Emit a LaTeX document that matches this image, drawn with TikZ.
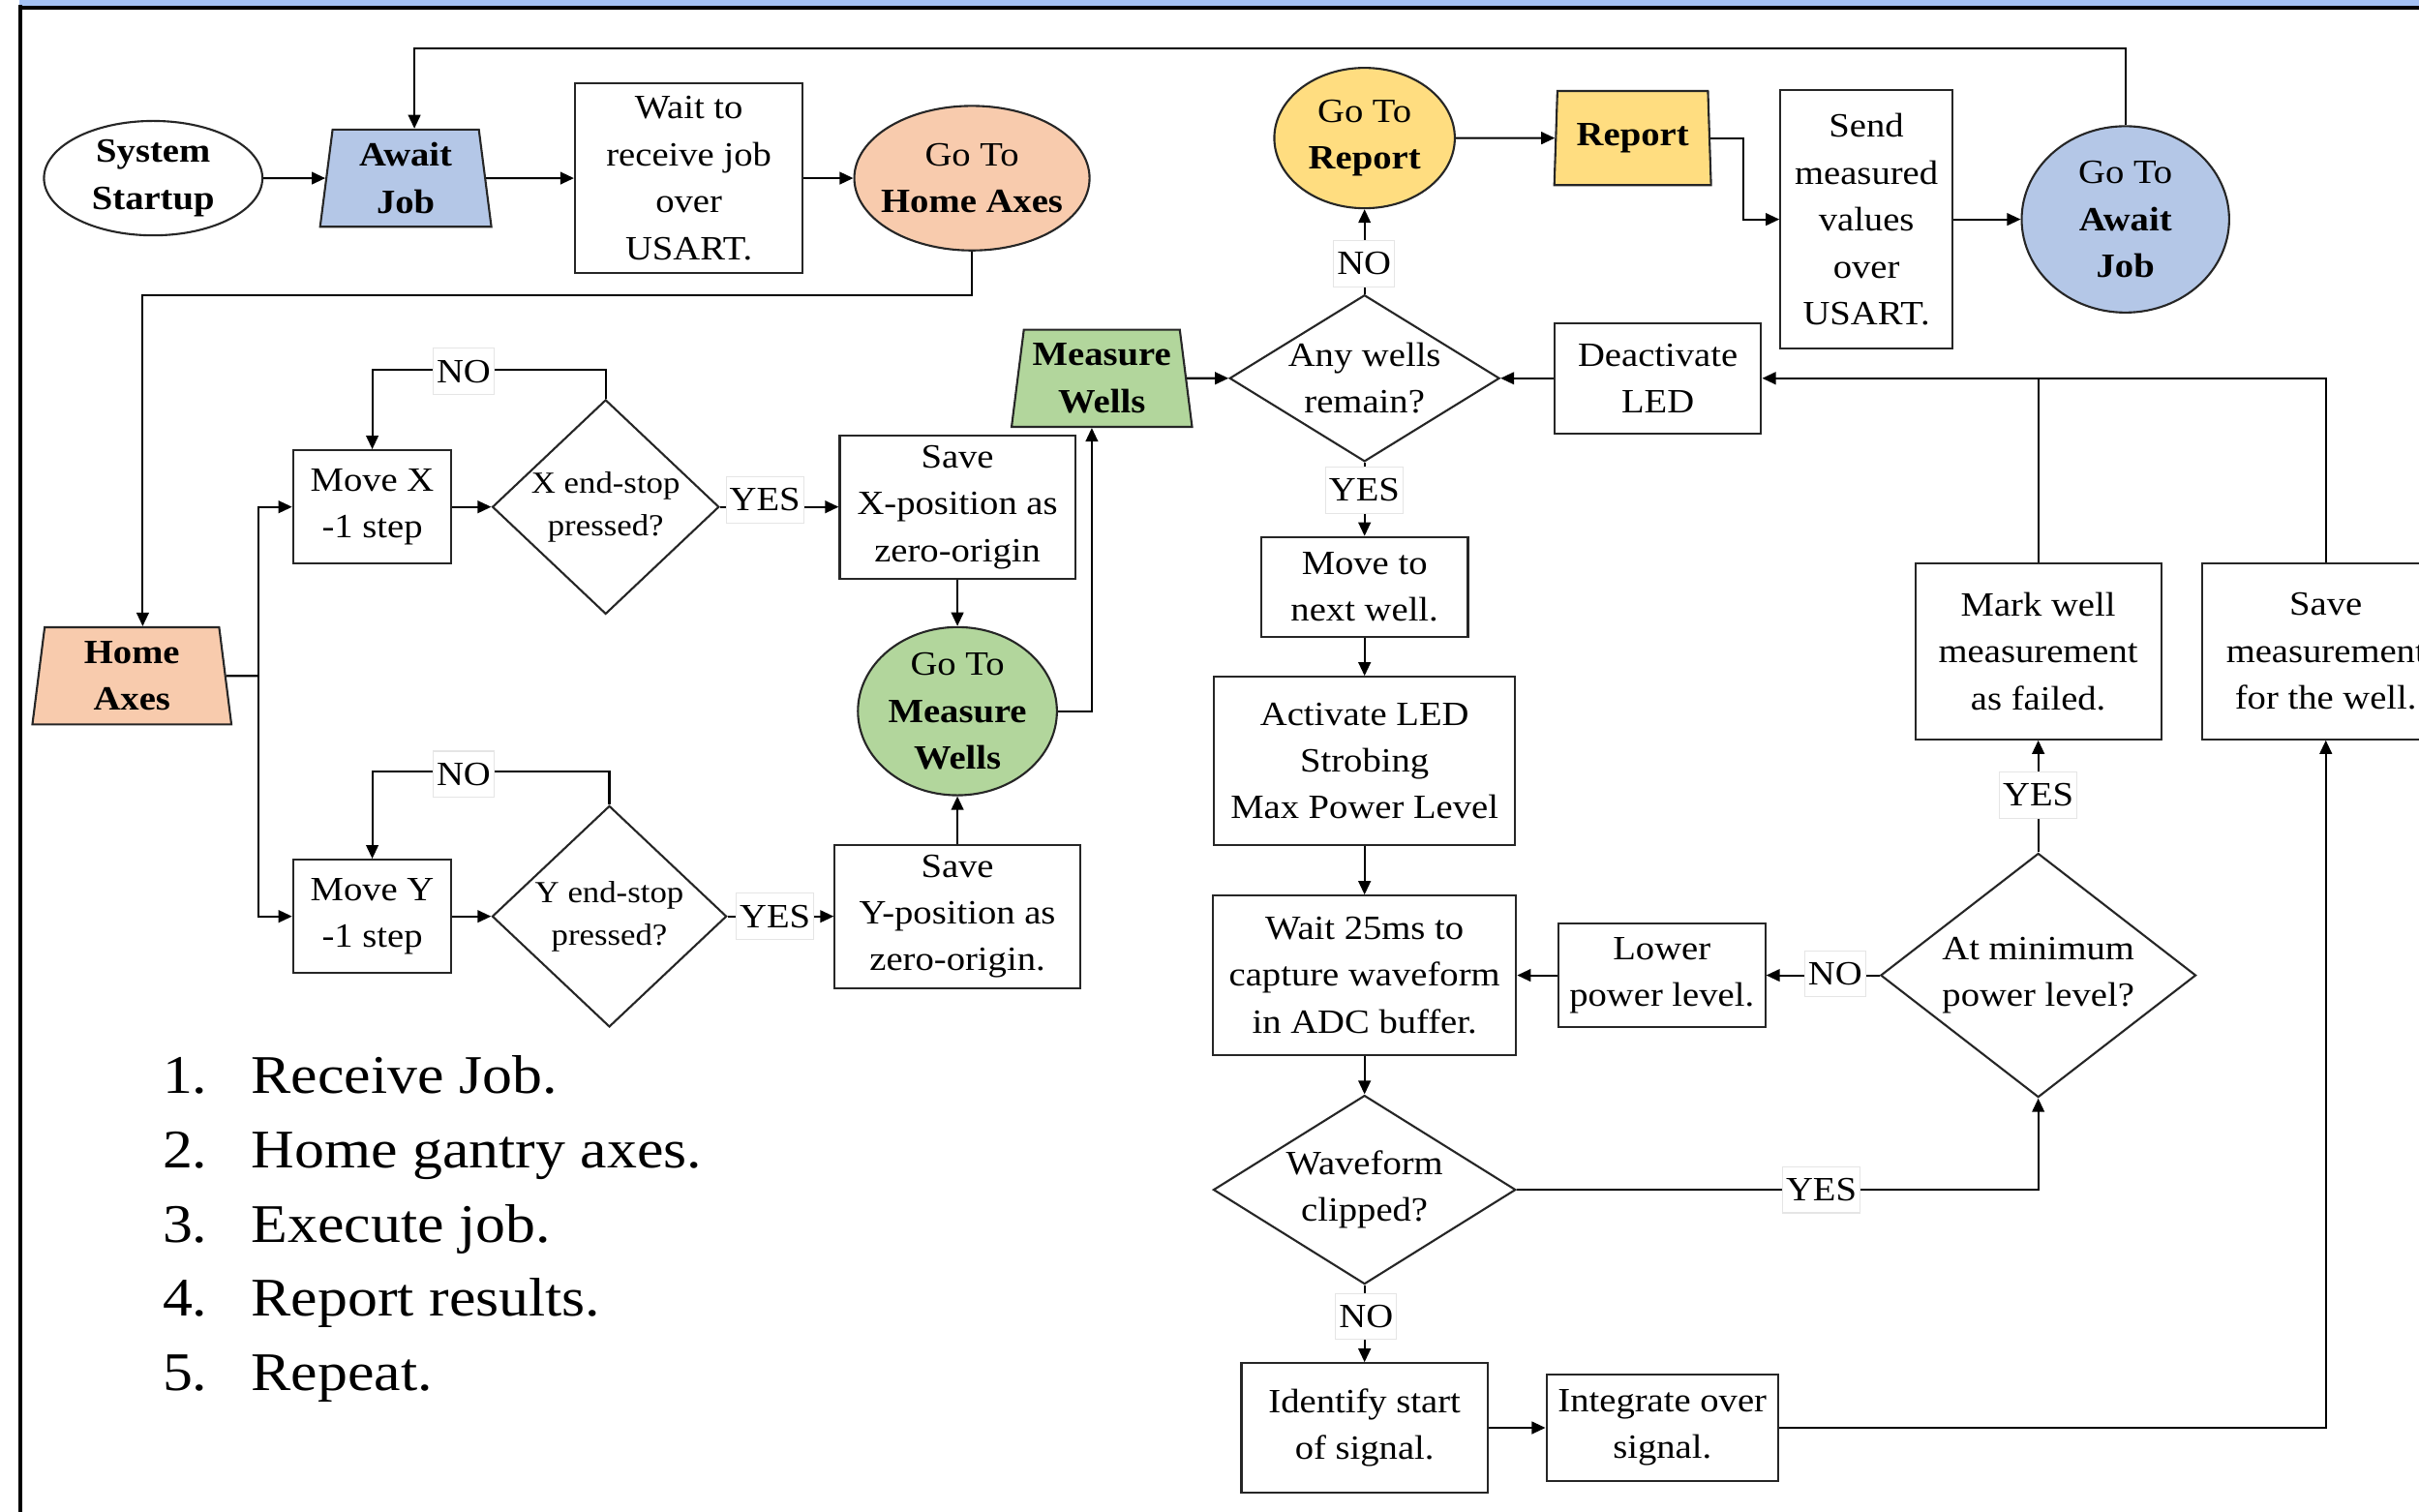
\documentclass[tikz,border=0pt]{standalone}
\usepackage{fontspec}
\setmainfont{Liberation Serif}[FakeStretch=1.1]
\usepackage{tikz}
\usetikzlibrary{shapes.geometric,arrows.meta,positioning}

\newlength{\pu}
\setlength{\pu}{0.01594cm}
\newcommand{\flowfont}{\fontsize{10}{13.8}\selectfont}
\newcommand{\stopfont}{\fontsize{9}{12.6}\selectfont}
\newcommand{\stepsfont}{\fontsize{16}{21.8}\selectfont}

\definecolor{bandblue}{RGB}{164,194,244}
\definecolor{jobblue}{RGB}{180,199,231}
\definecolor{homeorange}{RGB}{248,203,173}
\definecolor{reportyellow}{RGB}{255,221,128}
\definecolor{wellgreen}{RGB}{178,214,156}

\tikzset{
  wh/.style 2 args={minimum width=#1*\pu, minimum height=#2*\pu},
  proc/.style={draw=black!85, line width=0.6pt, rectangle, inner sep=0pt, align=center, font=\flowfont},
  decide/.style={draw=black!85, line width=0.6pt, diamond, inner sep=-2pt, align=center, font=\flowfont},
  goto/.style={draw=black!85, line width=0.6pt, ellipse, inner sep=-3pt, align=center, font=\flowfont},
  entry/.style={draw=black!85, line width=0.6pt, trapezium, trapezium left angle=80, trapezium right angle=80,
    trapezium stretches body, inner sep=0pt, align=center, font=\flowfont\bfseries},
  lbl/.style={fill=white, draw=black!10, line width=0.3pt, inner xsep=1pt, inner ysep=0pt, minimum height=30*\pu, font=\flowfont},
  flow/.style={line width=0.6pt, -{Triangle[length=4pt,width=3.6pt]}},
  link/.style={line width=0.6pt}
}

\begin{document}
\begin{tikzpicture}[x=0.01594cm, y=-0.01594cm]
\useasboundingbox (0,0) rectangle (1568,980);
\clip (0,0) rectangle (1568,980);

% frame
\fill[bandblue] (12.5,0) rectangle (1568,3.6);
\draw[line width=1.1pt] (12.5,4.9) -- (1568,4.9);
\draw[line width=1.1pt] (13.2,3) -- (13.2,980);

% receive job
\node[goto, fill=white, wh={141.6}{74.2}, font=\flowfont\bfseries] (startup) at (99.3,115.5) {System\\Startup};
\node[entry, fill=jobblue, wh={111}{63}] (awaitjob) at (263,115.5) {Await\\Job};
\node[proc, wh={147.6}{122.7}] (waitjob) at (446.5,115.5) {Wait to\\receive job\\over\\USART.};
\node[goto, fill=homeorange, wh={152.5}{93.7}] (gohome) at (630,115.5) {Go To\\\textbf{Home Axes}};

% home axes
\node[entry, fill=homeorange, wh={129}{63}] (homeaxes) at (85.5,438.1) {Home\\Axes};
\node[proc, wh={102.6}{73.5}] (movex) at (241.3,328.6) {Move X\\-1 step};
\node[decide, aspect=1.06, wh={147}{139}, font=\stopfont] (xstop) at (392.6,328.6) {X end-stop\\pressed?};
\node[proc, wh={152.6}{93}] (savex) at (620.6,328.6) {Save\\X-position as\\zero-origin};
\node[goto, fill=wellgreen, wh={129}{109}] (gomeas) at (620.6,461) {Go To\\\textbf{Measure}\\\textbf{Wells}};
\node[proc, wh={102.6}{73.5}] (movey) at (241.3,594) {Move Y\\-1 step};
\node[decide, aspect=1.06, wh={152}{143.4}, font=\stopfont] (ystop) at (395,594) {Y end-stop\\pressed?};
\node[proc, wh={159}{93}] (savey) at (620.6,594) {Save\\Y-position as\\zero-origin.};

% measure wells
\node[entry, fill=wellgreen, wh={117}{63}] (measwells) at (714.2,245.2) {Measure\\Wells};
\node[decide, aspect=1.62, wh={175}{108}] (anywells) at (884.5,245.2) {Any wells\\remain?};
\node[proc, wh={134}{71.8}] (deactivate) at (1074.6,245.2) {Deactivate\\LED};
\node[proc, wh={134}{64.8}] (movenext) at (884.5,380.5) {Move to\\next well.};
\node[proc, wh={195.4}{108.9}] (activate) at (884.5,493.2) {Activate LED\\Strobing\\Max Power Level};
\node[proc, wh={196.5}{103.2}] (wait25) at (884.5,632.2) {Wait 25ms to\\capture waveform\\in ADC buffer.};
\node[decide, aspect=1.6, wh={196}{122.4}] (waveform) at (884.5,771.2) {Waveform\\clipped?};
\node[proc, wh={159.6}{83.7}] (identify) at (884.5,925.5) {Identify start\\of signal.};
\node[proc, wh={150.2}{68.6}] (integrate) at (1077.5,925.5) {Integrate over\\signal.};
\node[proc, wh={134}{67.5}] (lower) at (1077.2,632.2) {Lower\\power level.};
\node[decide, aspect=1.29, wh={204.4}{158.2}] (atmin) at (1321.2,632.2) {At minimum\\power level?};
\node[proc, wh={159.5}{114}] (mark) at (1321.2,422.2) {Mark well\\measurement\\as failed.};
\node[proc, wh={160.2}{114}] (save) at (1507.6,422.2) {Save\\measurement\\for the well.};

% report
\node[goto, fill=reportyellow, wh={117}{91}] (gotoreport) at (884.5,89.5) {Go To\\\textbf{Report}};
\node[entry, fill=reportyellow, trapezium left angle=84, trapezium right angle=84, wh={101.6}{61}] (report) at (1058.3,89.5) {Report};
\node[proc, wh={111.5}{167.4}] (send) at (1209.8,142.2) {Send\\measured\\values\\over\\USART.};
\node[goto, fill=jobblue, wh={134.5}{120.8}] (gotoawait) at (1377.7,142.2) {Go To\\\textbf{Await}\\\textbf{Job}};

\coordinate (topline) at (0,31.4);
\coordinate (homebend) at (0,191.4);
\coordinate (split) at (167.5,438.1);
\coordinate (ledline) at (0,245.2);

\draw[flow] (startup) -- (awaitjob);
\draw[flow] (awaitjob) -- (waitjob);
\draw[flow] (waitjob) -- (gohome);
\draw[flow] (gohome.south) -- (gohome.south |- homebend) -| ([xshift=7*\pu]homeaxes.north);
\draw[link] (homeaxes.east) -- (split);
\draw[flow] (split) |- (movex.west);
\draw[flow] (split) |- (movey.west);
\draw[flow] (movex) -- (xstop);
\draw[flow] (movey) -- (ystop);
\draw[flow] (xstop.north) -- ++(0,-18.9) -| (movex.north);
\draw[flow] (ystop.north) -- ++(0,-21.7) -| (movey.north);
\draw[flow] (xstop.east) -- (savex.west);
\draw[flow] (ystop.east) -- (savey.west);
\draw[flow] (savex) -- (gomeas);
\draw[flow] (savey) -- (gomeas);
\draw[flow] (gomeas.east) -| ([xshift=-6.5*\pu]measwells.south);
\draw[flow] (measwells.east) -- (anywells.west);
\draw[flow] (deactivate.west) -- (anywells.east);
\draw[flow] (anywells.north) -- (gotoreport.south);
\draw[flow] (anywells.south) -- (movenext.north);
\draw[flow] (movenext) -- (activate);
\draw[flow] (activate) -- (wait25);
\draw[flow] (wait25) -- (waveform);
\draw[flow] (waveform.south) -- (identify.north);
\draw[flow] (identify) -- (integrate);
\draw[flow] (integrate.east) -| (save.south);
\draw[flow] (save.north) |- (deactivate.east);
\draw[link] (mark.north) -- (mark.north |- ledline);
\draw[flow] (waveform.east) -| (atmin.south);
\draw[flow] (atmin.west) -- (lower.east);
\draw[flow] (lower.west) -- (wait25.east);
\draw[flow] (atmin.north) -- (mark.south);
\draw[flow] (gotoreport.east) -- (report.west);
\draw[flow] (report.east) -- ++(21,0) |- (send.west);
\draw[flow] (send) -- (gotoawait);
\draw[flow] (gotoawait.north) -- (gotoawait.north |- topline) -| ([xshift=5.6*\pu]awaitjob.north);

% branch labels
\node[lbl] (xno) at (300.5,240.8) {NO};
\node[lbl] (xyes) at (495.8,324) {YES};
\node[lbl] (yno) at (300.5,501.9) {NO};
\node[lbl] (yyes) at (502.4,594.1) {YES};
\node[lbl] (wellsno) at (884.2,171) {NO};
\node[lbl] (wellsyes) at (884.3,317.8) {YES};
\node[lbl] (clipno) at (885.5,853.3) {NO};
\node[lbl] (clipyes) at (1180.6,771.2) {YES};
\node[lbl] (minno) at (1189.5,631.2) {NO};
\node[lbl] (minyes) at (1321.2,515.4) {YES};

% steps list
\node[anchor=base west, inner sep=0pt, font=\stepsfont] (steps) at (105,709) {%
  \begin{tabular}[t]{@{}p{57.5\pu}@{}l@{}}
  1. & Receive Job.\\
  2. & Home gantry axes.\\
  3. & Execute job.\\
  4. & Report results.\\
  5. & Repeat.
  \end{tabular}};
\end{tikzpicture}
\end{document}
